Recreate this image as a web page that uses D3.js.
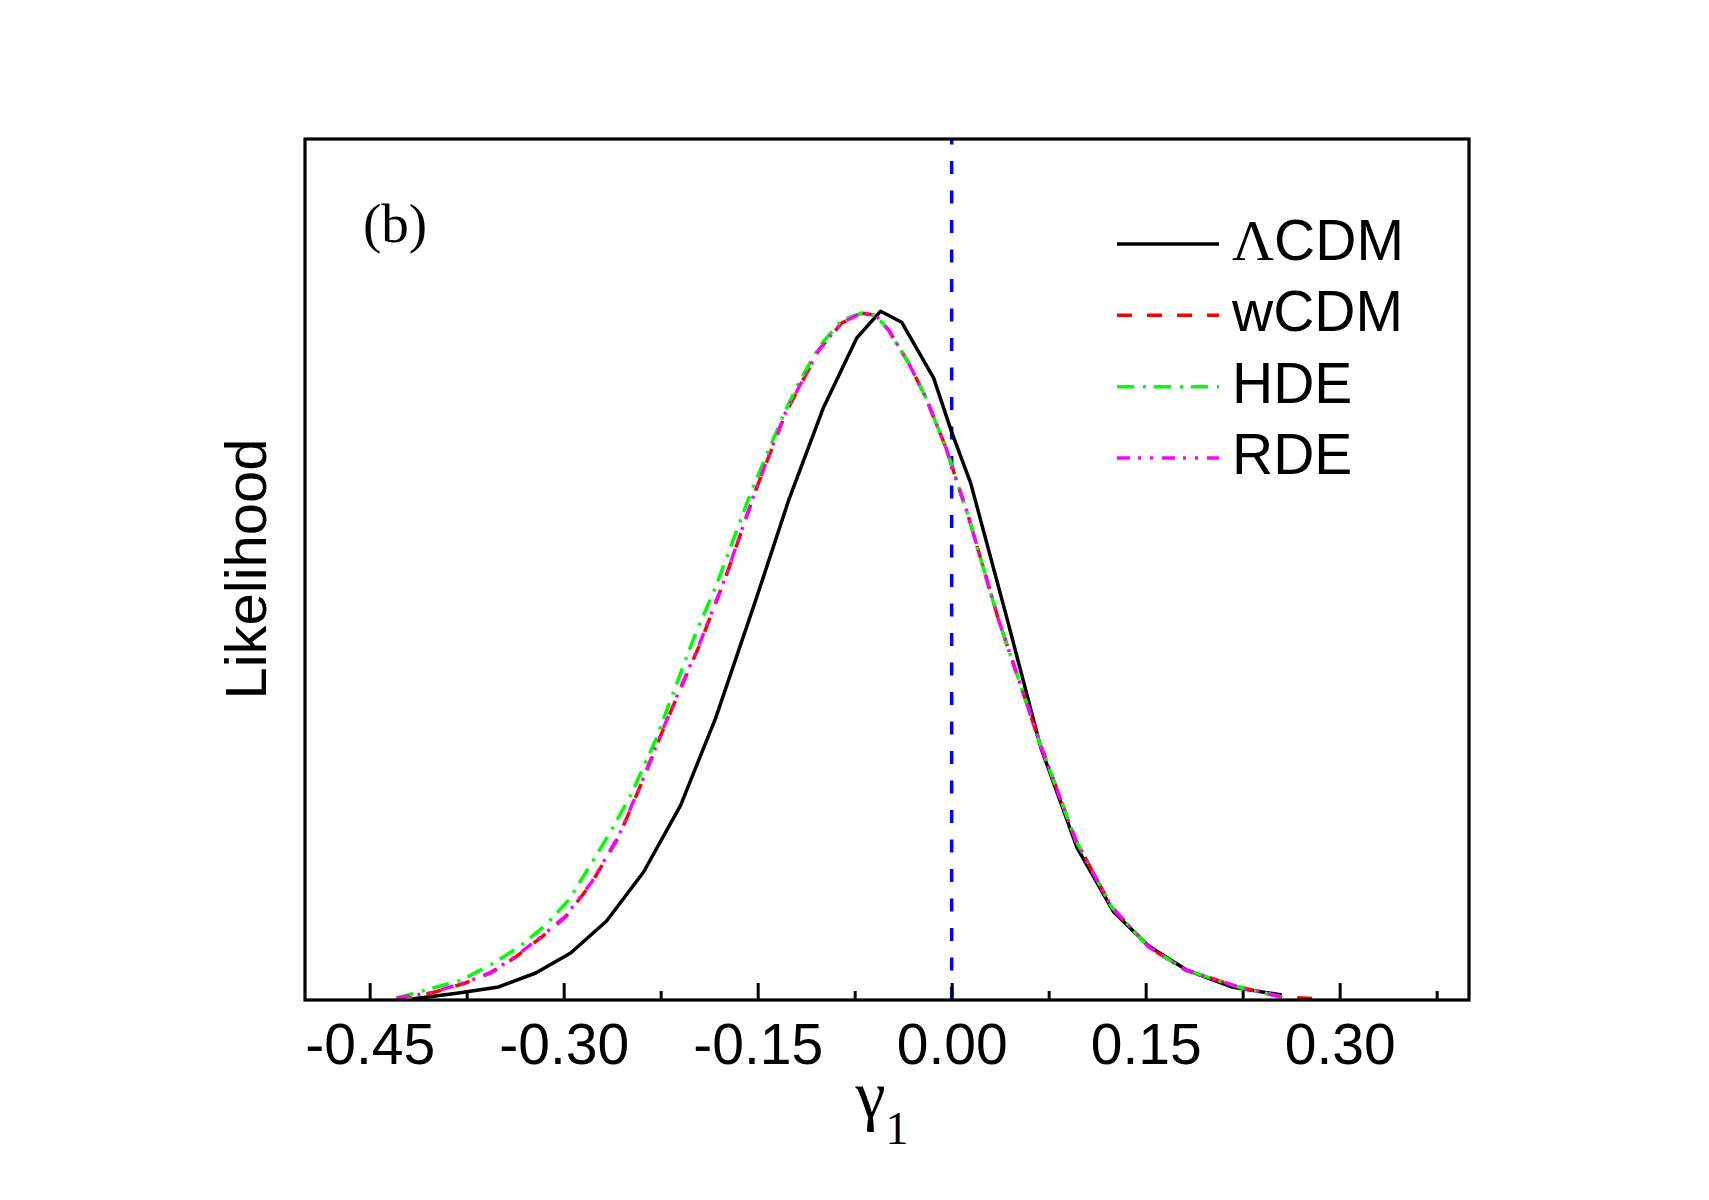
<!DOCTYPE html>
<html>
<head>
<meta charset="utf-8">
<script src="https://cdn.jsdelivr.net/npm/d3@7"></script>
<style>
  body { margin: 0; background: #fff; }
  svg { display: block; }
</style>
</head>
<body>
<div id="chart"></div>
<script>
// likelihood curves of gamma_1
var gLCDM = [-0.4175,-0.3812,-0.3503,-0.3216,-0.2946,-0.2668,-0.2382,-0.2095,-0.1825,-0.1515,-0.1260,-0.0990,-0.0735,-0.0549,-0.0387,-0.0139,0.0000,0.0147,0.0425,0.0688,0.0967,0.1253,0.1523,0.1817,0.2165,0.2552]
var lLCDM = [0.0015,0.0102,0.0189,0.0392,0.0682,0.1147,0.1858,0.2830,0.4093,0.5806,0.7257,0.8607,0.9608,1.0000,0.9840,0.9028,0.8244,0.7504,0.5559,0.3672,0.2221,0.1277,0.0784,0.0435,0.0189,0.0073]

var gWCDM = [-0.4291,-0.4021,-0.3758,-0.3565,-0.3371,-0.3170,-0.2985,-0.2784,-0.2575,-0.2397,-0.2242,-0.2111,-0.1956,-0.1747,-0.1515,-0.1284,-0.1028,-0.0851,-0.0696,-0.0588,-0.0487,-0.0332,-0.0201,-0.0046,0.0131,0.0363,0.0572,0.0673,0.0959,0.1237,0.1523,0.1809,0.2219,0.2552,0.2838]
var lWCDM = [0.0029,0.0102,0.0247,0.0392,0.0624,0.0914,0.1205,0.1698,0.2366,0.3149,0.3875,0.4456,0.5123,0.6139,0.7402,0.8520,0.9434,0.9826,0.9971,0.9942,0.9724,0.9245,0.8752,0.8026,0.7010,0.5515,0.4354,0.3774,0.2322,0.1350,0.0769,0.0435,0.0189,0.0044,0.0015]

var gHDE = [-0.4291,-0.3789,-0.3526,-0.3325,-0.3139,-0.2961,-0.2784,-0.2629,-0.2474,-0.2289,-0.2165,-0.1979,-0.1825,-0.1670,-0.1546,-0.1415,-0.1284,-0.1183,-0.1028,-0.0851,-0.0696,-0.0588,-0.0487,-0.0332,-0.0201,-0.0046,0.0131,0.0363,0.0572,0.0673,0.0959,0.1237,0.1523,0.1809,0.2219,0.2552]
var lHDE = [0.0029,0.0290,0.0552,0.0798,0.1089,0.1451,0.1988,0.2467,0.3004,0.3774,0.4398,0.5327,0.5994,0.6778,0.7402,0.7983,0.8563,0.8955,0.9478,0.9869,0.9971,0.9942,0.9724,0.9245,0.8752,0.8026,0.7010,0.5515,0.4354,0.3774,0.2322,0.1350,0.0769,0.0435,0.0189,0.0044]

var gRDE = [-0.4291,-0.4021,-0.3758,-0.3565,-0.3371,-0.3170,-0.2985,-0.2784,-0.2575,-0.2397,-0.2242,-0.2111,-0.1956,-0.1747,-0.1515,-0.1284,-0.1028,-0.0851,-0.0696,-0.0588,-0.0487,-0.0332,-0.0201,-0.0046,0.0131,0.0363,0.0572,0.0673,0.0959,0.1237,0.1523,0.1809,0.2219,0.2552]
var lRDE = [0.0029,0.0110,0.0255,0.0400,0.0635,0.0925,0.1220,0.1710,0.2380,0.3160,0.3890,0.4470,0.5140,0.6150,0.7410,0.8530,0.9440,0.9830,0.9975,0.9942,0.9724,0.9245,0.8752,0.8026,0.7010,0.5515,0.4354,0.3774,0.2322,0.1350,0.0769,0.0435,0.0189,0.0044]

var majorTicks = [-0.45,-0.30,-0.15,0.00,0.15,0.30]
var minorTicks = [-0.375,-0.225,-0.075,0.075,0.225,0.375]

var seriesNames = ["CDM","wCDM","HDE","RDE"]
var seriesColors = ["#000000","#ff0000","#00ff00","#ff00ff"]
var seriesDash = [null,"15,15","17,9,3,8","13,8,3,9,3,9"]

var W = 1709, H = 1200
var plotL = 305, plotR = 1469, plotT = 139, plotB = 1000

var svg = d3.select("#chart").append("svg")
  .attr("width", W)
  .attr("height", H)

svg.append("rect").attr("width", W).attr("height", H).attr("fill", "#fff")

var x = d3.scaleLinear().domain([-0.5, 0.4]).range([plotL, plotR])
var y = d3.scaleLinear().domain([0, 1.25]).range([plotB, plotT])

// curves
var series = [
  {g: gLCDM, l: lLCDM},
  {g: gWCDM, l: lWCDM},
  {g: gHDE, l: lHDE},
  {g: gRDE, l: lRDE}
]

var line = d3.line()
  .x(d => x(d[0]))
  .y(d => y(d[1]))

var plot = svg.append("g")

// blue reference line at zero, dashed from the axis upward
plot.append("line")
  .attr("x1", x(0)).attr("x2", x(0))
  .attr("y1", y(0)).attr("y2", y(1.25))
  .attr("stroke", "#0000ff")
  .attr("stroke-width", 3.5)
  .attr("stroke-dasharray", "13,16.5")

series.forEach(function (s, i) {
  var pts = s.g.map((g, k) => [g, s.l[k]])
  plot.append("path")
    .attr("d", line(pts))
    .attr("fill", "none")
    .attr("stroke", seriesColors[i])
    .attr("stroke-width", 3.5)
    .attr("stroke-linejoin", "round")
    .attr("stroke-dasharray", seriesDash[i])
})

// axis ticks (inward) and labels
var fmt = d3.format(".2f")
var xAxis = d3.axisBottom(x)
  .tickValues(majorTicks)
  .tickSize(-17)
  .tickPadding(24)
  .tickFormat(d => fmt(d).replace("\u2212", "-"))

var ax = svg.append("g")
  .attr("transform", `translate(0,${plotB})`)
  .call(xAxis)
ax.select(".domain").remove()
ax.selectAll(".tick line").attr("stroke", "#000").attr("stroke-width", 3)
ax.selectAll(".tick text")
  .attr("fill", "#000")
  .style("font-family", "Arial, 'Liberation Sans', sans-serif")
  .style("font-size", "57px")

var minorAx = svg.append("g")
  .attr("transform", `translate(0,${plotB})`)
  .call(d3.axisBottom(x).tickValues(minorTicks).tickSize(-9).tickFormat(""))
minorAx.select(".domain").remove()
minorAx.selectAll(".tick line").attr("stroke", "#000").attr("stroke-width", 3)

// frame
svg.append("rect")
  .attr("x", plotL).attr("y", plotT)
  .attr("width", plotR - plotL).attr("height", plotB - plotT)
  .attr("fill", "none")
  .attr("stroke", "#000")
  .attr("stroke-width", 3.2)

// panel tag
svg.append("text")
  .attr("x", 363).attr("y", 242)
  .style("font-family", "'Times New Roman', 'Liberation Serif', serif")
  .style("font-size", "55px")
  .text("(b)")

// axis titles
var xt = svg.append("text")
  .attr("x", 882).attr("y", 1118)
  .attr("text-anchor", "middle")
  .style("font-family", "'Times New Roman', 'Liberation Serif', serif")
  .style("font-size", "68px")
xt.append("tspan").text("\u03b3")
xt.append("tspan").attr("dy", 26).style("font-size", "46px").text("1")

svg.append("text")
  .attr("transform", "translate(266,569) rotate(-90)")
  .attr("text-anchor", "middle")
  .style("font-family", "Arial, 'Liberation Sans', sans-serif")
  .style("font-size", "58px")
  .text("Likelihood")

// legend
var legend = svg.append("g")
var legY = d3.scaleLinear().domain([0, 3]).range([244, 458])
seriesNames.forEach(function (name, i) {
  var ly = legY(i)
  legend.append("line")
    .attr("x1", 1117).attr("x2", 1219)
    .attr("y1", ly).attr("y2", ly)
    .attr("stroke", seriesColors[i])
    .attr("stroke-width", 3.5)
    .attr("stroke-dasharray", seriesDash[i])
  var t = legend.append("text")
    .attr("x", 1232).attr("y", ly + 16)
    .style("font-family", "Arial, 'Liberation Sans', sans-serif")
    .style("font-size", "57px")
  if (i === 0) {
    t.append("tspan")
      .style("font-family", "'Times New Roman', 'Liberation Serif', serif")
      .style("font-size", "58px")
      .text("\u039b")
  }
  t.append("tspan").text(name)
})
</script>
</body>
</html>
